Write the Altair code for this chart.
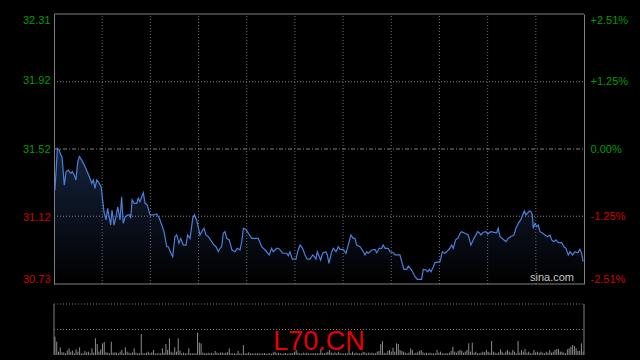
import altair as alt
import pandas as pd

# ---------------- data ----------------
# minutes since session open (session = 330 minutes, grid every 30 minutes)
price_t = [0.6,2.1,3.3,4.2,5.0,6.4,7.5,8.9,10.4,11.4,
           12.6,13.7,14.8,15.8,17.2,18.9,20.7,22.4,23.5,24.5,
           25.5,26.6,28.2,29.3,30.3,31.1,32.4,33.4,35.3,36.1,
           37.4,38.6,39.7,41.1,42.1,43.1,44.4,45.9,47.3,47.8,
           48.6,50.0,51.5,52.5,53.5,54.6,55.6,56.7,58.1,59.8,
           61.8,63.9,65.6,67.1,68.5,70.2,71.2,72.8,73.9,75.3,
           76.4,77.8,78.9,80.5,82.2,83.2,84.7,86.4,87.4,88.8,
           90.9,92.6,93.4,94.6,96.1,98.2,99.6,100.9,102.3,103.4,
           104.4,105.4,106.5,107.5,109.1,110.8,112.7,114.1,115.8,116.9,
           117.9,119.5,121.0,123.1,127.2,129.3,131.4,134.0,135.5,136.5,
           138.7,140.3,142.4,144.9,145.9,146.9,148.4,150.7,151.7,153.2,
           154.8,156.3,157.7,159.4,161.1,162.1,163.1,163.9,165.2,166.0,
           167.3,169.3,170.2,171.2,172.9,173.9,175.6,177.0,178.1,180.1,
           181.8,183.2,184.9,186.3,187.4,188.5,190.5,192.6,193.6,194.7,
           195.7,197.8,199.9,200.9,202.5,204.0,205.0,206.1,208.1,209.2,
           211.3,212.3,214.4,215.4,216.5,217.9,219.6,220.6,222.7,224.8,
           226.2,228.9,229.9,231.6,232.7,233.7,234.7,236.2,237.2,240.3,
           241.8,243.4,244.5,246.5,247.6,248.6,250.1,251.7,252.8,253.8,
           255.9,257.9,259.6,261.5,263.8,264.8,265.8,267.3,269.0,270.0,
           271.9,275.6,276.6,277.7,279.7,281.4,282.8,284.3,286.4,287.6,
           289.1,290.6,291.8,292.8,293.9,294.7,295.9,297.0,297.8,298.4,
           299.5,300.5,301.5,302.6,304.3,305.7,307.4,308.8,309.9,311.3,
           312.5,314.0,316.1,317.5,318.8,320.2,321.3,322.9,324.4,326.1,
           327.5,328.5,329.5]

price_p = [31.280,31.524,31.514,31.485,31.475,31.309,31.387,31.397,31.378,31.387,
           31.368,31.339,31.446,31.475,31.456,31.426,31.387,31.349,31.319,31.339,
           31.290,31.339,31.319,31.299,31.222,31.153,31.105,31.173,31.075,31.163,
           31.075,31.124,31.182,31.105,31.241,31.085,31.124,31.134,31.134,31.115,
           31.222,31.202,31.202,31.232,31.212,31.241,31.264,31.202,31.192,31.134,
           31.134,31.140,31.115,31.075,31.036,30.948,30.948,30.910,30.890,31.007,
           31.017,30.968,30.997,30.958,30.958,31.017,30.997,31.115,31.134,31.105,
           31.017,31.046,31.056,31.017,31.007,30.978,30.958,30.948,30.919,30.939,
           30.948,31.027,31.036,30.997,30.988,30.929,30.919,30.939,30.929,30.978,
           31.056,31.050,31.027,30.997,30.997,30.948,30.929,30.900,30.939,30.919,
           30.939,30.935,30.910,30.910,30.896,30.919,30.875,30.875,30.919,30.958,
           30.939,30.900,30.875,30.875,30.900,30.890,30.875,30.919,30.890,30.870,
           30.910,30.919,30.900,30.851,30.919,30.939,30.919,30.948,30.933,30.933,
           30.910,30.958,31.017,30.997,30.997,30.958,30.948,30.919,30.900,30.919,
           30.910,30.929,30.933,30.913,30.939,30.939,30.958,30.939,30.939,30.919,
           30.913,30.900,30.900,30.900,30.861,30.816,30.816,30.835,30.812,30.773,
           30.757,30.757,30.816,30.812,30.802,30.816,30.802,30.831,30.855,30.861,
           30.919,30.910,30.919,30.939,30.958,30.939,30.988,31.001,31.027,31.036,
           31.027,31.017,30.958,30.997,31.036,31.030,31.017,31.033,31.036,31.023,
           31.036,31.030,31.056,31.007,30.992,30.978,30.997,31.007,31.017,31.056,
           31.085,31.105,31.134,31.157,31.134,31.144,31.157,31.153,31.134,31.056,
           31.085,31.065,31.075,31.036,31.027,31.017,31.007,31.017,30.988,30.978,
           30.988,30.972,30.972,30.948,30.939,30.900,30.919,30.900,30.919,30.913,
           30.933,30.910,30.861]

vol_v = [55,40,10,23,8,8,5,13,20,10, 13,5,17,10,23,5,5,12,8,10,
         5,20,7,50,33,10,17,35,39,8, 7,5,40,7,8,7,5,10,15,5,
         23,10,7,5,8,20,7,5,5,63, 5,5,7,10,5,8,15,5,5,5,
         5,20,7,33,15,50,10,7,23,10, 50,13,5,7,5,5,20,5,5,5,
         5,67,37,35,7,5,5,7,5,7, 4,12,7,5,7,8,5,7,8,20,
         5,5,5,4,12,5,4,30,5,5, 8,5,5,4,5,5,
         5,4,5,6,4,5,5,4,8,10, 5,7,5,4,5,6,4,5,5,6,
         10,15,7,5,4,7,5,7,5,4, 6,5,5,5,5,18, 6,5,7,
         10,15,7,5,8,5,10,5,5,5, 5,5,18,5,10,5,7,5,5,5,
         10,8,5,7,5,7,5,5,10,12, 33,42,7,5,12,15,10,22,10,35,
         33,15,12,10,7,5,7,20,15,5, 7,8,12,15,8,5,7,5,7,5,
         5,5,15,7,10,5,5,5,5,7, 12,25,10,7,12,15,13,7,10,15,
         35,10,37,7,10,5,5,7,10,8, 15,10,7,42,10,7,5,8,17,10,
         5,10,15,10,7,15,10,5,42,7, 15,10,18,7,10,5,5,15,8,10,
         7,10,7,5,10,7,15,7,10,15, 18,18,10,10,7,5,17,20,25,30,
         27,20,12,13,35,10]

prev_close = 31.52
price_lo, price_hi = 30.73, 32.31
price_ticks = [30.73, 31.12, 31.52, 31.92, 32.31]
pct_lo, pct_hi = -2.51, 2.51
pct_ticks = [-2.51, -1.25, 0.00, 1.25, 2.51]
pct_dotted = [-1.25, 1.25]
pct_zero = [0.00]
session = [0, 330]
grid_minutes = [30, 60, 90, 120, 150, 180, 210, 240, 270, 300]
vol_max = 153
vol_grid = [76.5, 153]
vol_first_t, vol_last_t = 0.6, 329.5
symbol = "L70.CN"
watermark = "sina.com"

# ---------------- styling ----------------
GREEN = "#009c00"
RED = "#d40000"
GRAY = "#808080"
DOT = "#6e6e6e"
FONT = "Liberation Sans"

n = min(len(price_t), len(price_p))
price_df = pd.DataFrame({"t": price_t[:n], "price": price_p[:n]})
nv = len(vol_v)
step = (vol_last_t - vol_first_t) / (nv - 1)
vol_df = pd.DataFrame({"t": [vol_first_t + i * step for i in range(nv)], "vol": vol_v})

x_scale = alt.Scale(domain=session, nice=False, zero=False)
p_scale = alt.Scale(domain=[price_lo, price_hi], range=[270, 0], nice=False, zero=False)
pct_scale = alt.Scale(domain=[pct_lo, pct_hi], range=[270, 0], nice=False, zero=False)
v_scale = alt.Scale(domain=[0, vol_max], range=[341, 290], nice=False, zero=False)

X = alt.X("t:Q", scale=x_scale, axis=None)

gradient = alt.Gradient(
    gradient="linear",
    stops=[alt.GradientStop(color="#16233c", offset=0),
           alt.GradientStop(color="#000000", offset=1)],
    x1=1, x2=1, y1=0, y2=1,
)

area = alt.Chart(price_df).transform_calculate(base=str(price_lo)).mark_area(
    color=gradient).encode(
    x=X,
    y=alt.Y("price:Q", scale=p_scale, axis=None),
    y2=alt.Y2("base:Q"),
)

line = alt.Chart(price_df).mark_line(color="#4a80da", strokeWidth=1.2).encode(
    x=X,
    y=alt.Y("price:Q", scale=p_scale, title=None,
            axis=alt.Axis(orient="left", values=price_ticks, format=".2f",
                          ticks=False, tickSize=0, grid=False, domain=True,
                          domainColor=GRAY, domainWidth=1,
                          labelFont=FONT, labelFontSize=11, labelPadding=4,
                          labelFlush=True,
                          labelColor=alt.expr(f"datum.value >= {prev_close} ? '{GREEN}' : '{RED}'"))),
)

vgrid_df = pd.DataFrame({"t": grid_minutes, "lo": price_lo, "hi": price_hi})
vgrid = alt.Chart(vgrid_df).mark_rule(color=DOT, strokeWidth=1, strokeDash=[1, 2]).encode(
    x=X,
    y=alt.Y("lo:Q", scale=p_scale, axis=None),
    y2="hi:Q",
)

border_df = pd.DataFrame({"price": [price_lo, price_hi], "x0": session[0], "x1": session[1]})
hborder = alt.Chart(border_df).mark_rule(color=GRAY, strokeWidth=1).encode(
    x=alt.X("x0:Q", scale=x_scale, axis=None),
    x2="x1:Q",
    y=alt.Y("price:Q", scale=p_scale, axis=None),
)

pct_df = pd.DataFrame({"pct": pct_dotted, "x0": session[0], "x1": session[1]})
pct_rules = alt.Chart(pct_df).mark_rule(color=GRAY, strokeWidth=1, strokeDash=[1, 2]).encode(
    x=alt.X("x0:Q", scale=x_scale, axis=None),
    x2="x1:Q",
    y=alt.Y("pct:Q", scale=pct_scale, title=None,
            axis=alt.Axis(orient="right", values=pct_ticks,
                          labelExpr="(datum.value > 0 ? '+' : (datum.value < 0 ? '-' : '')) + format(abs(datum.value), '.2f') + '%'",
                          ticks=False, tickSize=0, grid=False, domain=True,
                          domainColor=GRAY, domainWidth=1,
                          labelFont=FONT, labelFontSize=11, labelPadding=6,
                          labelFlush=True,
                          labelColor=alt.expr(f"datum.value >= 0 ? '{GREEN}' : '{RED}'"))),
)

zero_df = pd.DataFrame({"pct": pct_zero, "x0": session[0], "x1": session[1]})
zero_rule = alt.Chart(zero_df).mark_rule(color=GRAY, strokeWidth=1, strokeDash=[4, 2, 1, 2]).encode(
    x=alt.X("x0:Q", scale=x_scale, axis=None),
    x2="x1:Q",
    y=alt.Y("pct:Q", scale=pct_scale, axis=None),
)

wm = alt.Chart(pd.DataFrame({"label": [watermark]})).mark_text(
    font=FONT, fontSize=11, color="#c4c4c4", align="center", baseline="middle").encode(
    text="label:N", x=alt.value(498), y=alt.value(264))

# ---------------- volume panel ----------------
vol_df["zero"] = 0
bars = alt.Chart(vol_df).mark_rule(color="#8c8c8c", strokeWidth=1).encode(
    x=X,
    y=alt.Y("vol:Q", scale=v_scale, axis=None),
    y2="zero:Q",
)

vgrid2_df = pd.DataFrame({"vol": vol_grid, "x0": session[0], "x1": session[1]})
vol_grid_rules = alt.Chart(vgrid2_df).mark_rule(color=GRAY, strokeWidth=1, strokeDash=[1, 2]).encode(
    x=alt.X("x0:Q", scale=x_scale, axis=None),
    x2="x1:Q",
    y=alt.Y("vol:Q", scale=v_scale, axis=None),
)

vborder_df = pd.DataFrame({"t": session, "lo": 0, "hi": vol_max})
vol_border = alt.Chart(vborder_df).mark_rule(color=GRAY, strokeWidth=1).encode(
    x=X,
    y=alt.Y("lo:Q", scale=v_scale, axis=None),
    y2="hi:Q",
)

sym = alt.Chart(pd.DataFrame({"label": [symbol]})).mark_text(
    font=FONT, fontSize=27, color="#e60000", align="center", baseline="alphabetic").encode(
    text="label:N", x=alt.value(265), y=alt.value(336))

chart = alt.layer(
    area, vgrid, hborder, pct_rules, zero_rule, line, wm,
    vol_grid_rules, bars, vol_border, sym,
).resolve_scale(y="independent").properties(
    width=530, height=341,
    autosize=alt.AutoSizeParams(type="none"),
    padding={"left": 54, "top": 14, "right": 56, "bottom": 5},
    background="#000000",
).configure_view(stroke="transparent")

chart.save("out.html", embed_options={"renderer": "svg", "actions": False})
